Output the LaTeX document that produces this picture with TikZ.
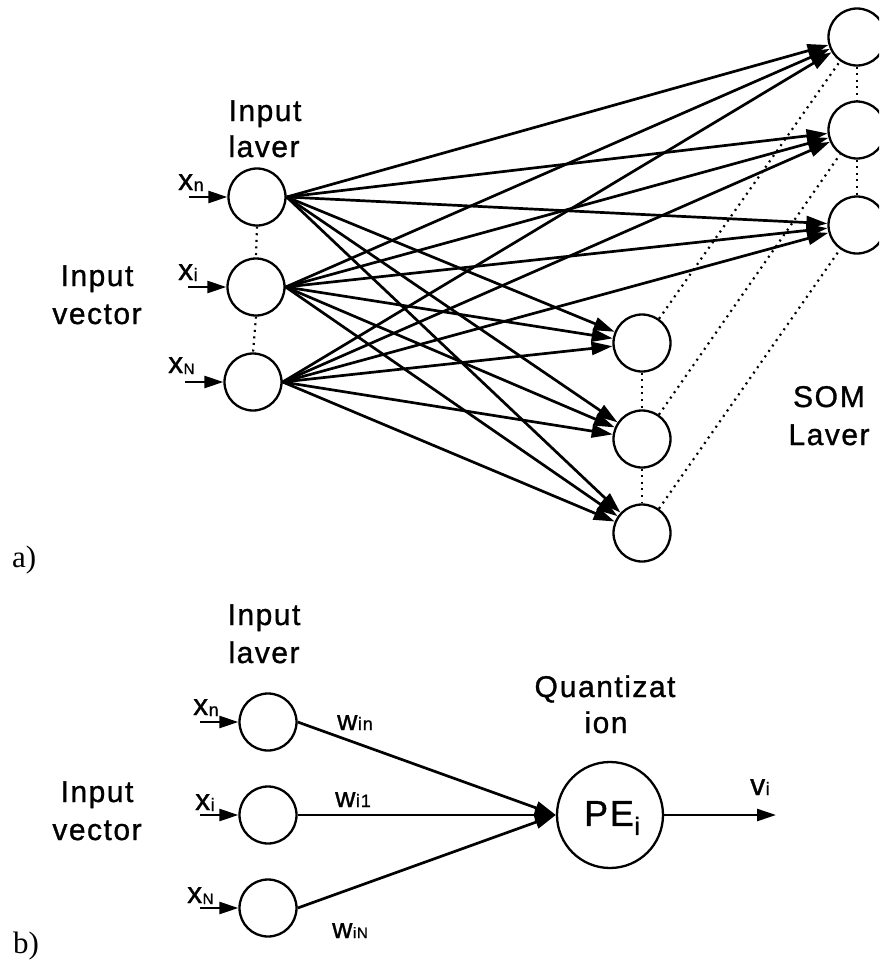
\documentclass[tikz,border=0pt]{standalone}
\usepackage{fontspec}
\setmainfont{Liberation Sans}[LetterSpace=5,BoldFont=Liberation Sans,BoldFeatures={FakeBold=1.0}]
\newfontfamily\partfont{Liberation Serif}
\usetikzlibrary{arrows.meta}

% symbol with a small index: \ixsym{main}{index}{main size}{index size}{drop}
\newcommand{\ixsym}[5]{{\fontsize{#3}{#3}\selectfont #1}\kern0.5pt\raisebox{-#5}{\fontsize{#4}{#4}\selectfont #2}}

\begin{document}
\begin{tikzpicture}[x=1pt,y=-1pt,
  neuron/.style={circle,draw,line width=2.3pt,minimum size=57pt,inner sep=0pt},
  bigneuron/.style={circle,draw,line width=2.3pt,minimum size=106pt,inner sep=0pt},
  link/.style={line width=2.7pt,-{Triangle[length=21pt,width=13pt]}},
  feed/.style={line width=2.5pt,-{Triangle[length=19pt,width=12pt]}},
  dots/.style={line width=2.2pt,dash pattern=on 2pt off 4.6pt},
  txt/.style={font=\bfseries\fontsize{30}{36}\selectfont,anchor=base,inner sep=0pt},
  sub/.style={font=\bfseries,anchor=base west,inner sep=0pt},
  part/.style={font=\partfont\fontsize{31}{34}\selectfont,anchor=base west,inner sep=0pt},
]
\useasboundingbox (0,0) rectangle (879,964);
\clip (0,0) rectangle (879,964);

% ---------------- a) SOM network ----------------
% input layer
\node[neuron] (I1) at (257,197) {};
\node[neuron] (I2) at (256,287) {};
\node[neuron] (I3) at (253,382) {};
% lower group of the SOM layer
\node[neuron] (M1) at (642,343) {};
\node[neuron] (M2) at (642,439) {};
\node[neuron] (M3) at (642,533) {};
% upper group of the SOM layer
\node[neuron] (S1) at (857,37) {};
\node[neuron] (S2) at (857,130) {};
\node[neuron] (S3) at (857,225) {};

% dotted links inside the layers
\draw[dots] (I1.south) -- (I2.north);
\draw[dots] (I2.south) -- (I3.north);
\draw[dots] (M1.south) -- (M2.north);
\draw[dots] (M2.south) -- (M3.north);
\draw[dots] (S1.south) -- (S2.north);
\draw[dots] (S2.south) -- (S3.north);
\draw[dots] (M1) -- (S1);
\draw[dots] (M2) -- (S2);
\draw[dots] (M3) -- (S3);

% full connection input -> SOM
\foreach \i in {I1,I2,I3}
  \foreach \t in {S1,S2,S3,M1,M2,M3}
    \draw[link] (\i.east) -- (\t);

% inputs
\draw[feed] ([xshift=-38pt]I1.west) -- (I1.west);
\draw[feed] ([xshift=-38pt]I2.west) -- (I2.west);
\draw[feed] ([xshift=-38pt]I3.west) -- (I3.west);
\node[sub] (xan) at (178,190) {\ixsym{x}{n}{30}{18}{1pt}};
\node[sub] (xai) at (178,280) {\ixsym{x}{i}{30}{18}{1pt}};
\node[sub] (xaN) at (168,373) {\ixsym{x}{N}{30}{15}{1pt}};

% labels
\node[txt] (ila1) at (265,121) {Input};
\node[txt] (ila2) at (264,157) {laver};
\node[txt] (iva1) at (97,286) {Input};
\node[txt] (iva2) at (97,324) {vector};
\node[txt] (som1) at (829,407) {SO\kern2pt M};
\node[txt] (som2) at (829,445) {Laver};
\node[part] (pa) at (12,567) {a)};

% ---------------- b) single processing element ----------------
\node[neuron] (B1) at (268,722) {};
\node[neuron] (B2) at (268,815) {};
\node[neuron] (B3) at (268,908) {};
\node[bigneuron] (PE) at (610,815) {};
\node[inner sep=0pt,font=\bfseries] (PEt) at (612,818) {\ixsym{PE}{i}{36}{25}{9pt}};
\coordinate (vout) at (776,815);

\draw[link] (B1.east) -- (PE.west);
\draw[link] (B2.east) -- (PE.west);
\draw[link] (B3.east) -- (PE.west);
\draw[feed] (PE.east) -- (vout);

\draw[feed] ([xshift=-38pt]B1.west) -- (B1.west);
\draw[feed] ([xshift=-38pt]B2.west) -- (B2.west);
\draw[feed] ([xshift=-38pt]B3.west) -- (B3.west);
\node[sub] (xbn) at (193,715) {\ixsym{x}{n}{30}{18}{1pt}};
\node[sub] (xbi) at (195,810) {\ixsym{x}{i}{30}{18}{1pt}};
\node[sub] (xbN) at (187,903) {\ixsym{x}{N}{30}{15}{1pt}};

\node[sub] (w1) at (337,730) {\ixsym{w}{in}{28}{18}{0pt}};
\node[sub] (w2) at (335,807) {\ixsym{w}{i1}{28}{18}{0pt}};
\node[sub] (w3) at (332,938) {\ixsym{w}{iN}{28}{15}{0pt}};
\node[sub] (vi) at (750,795) {\ixsym{v}{i}{30}{18}{0pt}};

\node[txt] (ilb1) at (264,625) {Input};
\node[txt] (ilb2) at (264,663) {laver};
\node[txt] (q1) at (605,697) {Q\kern2pt uantizat};
\node[txt] (q2) at (606,733) {ion};
\node[txt] (ivb1) at (97,802) {Input};
\node[txt] (ivb2) at (97,840) {vector};
\node[part] (pb) at (13,953) {b)};
\end{tikzpicture}
\end{document}
